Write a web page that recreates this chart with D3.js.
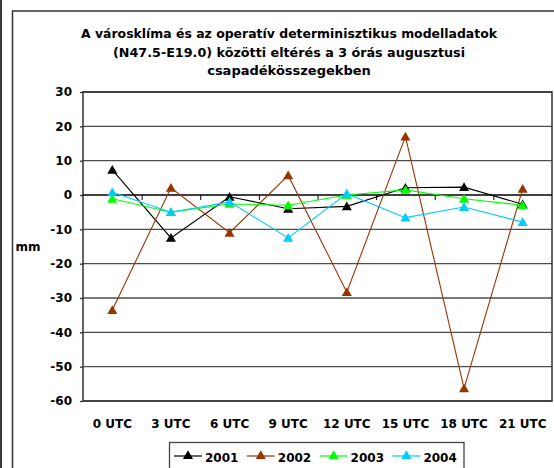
<!DOCTYPE html>
<html>
<head>
<meta charset="utf-8">
<script src="https://cdn.jsdelivr.net/npm/d3@7"></script>
<style>
  html, body { margin: 0; padding: 0; background: #fff; }
  svg { display: block; }
  text { font-family: "DejaVu Sans", Verdana, sans-serif; font-weight: bold; fill: #000; }
</style>
</head>
<body>
<svg id="chart" width="554" height="468"></svg>
<script>
// Eltérés (mm) a 3 órás augusztusi csapadékösszegekben
const categories = ["0 UTC", "3 UTC", "6 UTC", "9 UTC", "12 UTC", "15 UTC", "18 UTC", "21 UTC"];
const years = ["2001", "2002", "2003", "2004"];
const values2001 = [7.3, -12.5, -0.5, -4.0, -3.3, 2.1, 2.3, -2.7];
const values2002 = [-33.5, 2.1, -11.0, 5.7, -28.3, 17.0, -56.3, 1.8];
const values2003 = [-1.1, -5.0, -2.6, -3.0, 0.0, 1.5, -1.1, -3.0];
const values2004 = [0.8, -5.0, -2.0, -12.5, 0.4, -6.6, -3.5, -7.9];
const yTicks = [30, 20, 10, 0, -10, -20, -30, -40, -50, -60];
const titleLines = [
  "A városklíma és az operatív determinisztikus modelladatok",
  "(N47.5-E19.0) közötti eltérés a 3 órás augusztusi",
  "csapadékösszegekben"
];
const yLabel = "mm";

const seriesData = [values2001, values2002, values2003, values2004];
const colors = ["#000000", "#993300", "#00ff00", "#00ccff"];

const svg = d3.select("#chart");

// outer frame pieces
svg.append("rect").attr("x", 0).attr("y", 0).attr("width", 2).attr("height", 468).attr("fill", "#3a3a3a");
svg.append("rect").attr("x", 12.5).attr("y", 11).attr("width", 600).attr("height", 600)
  .attr("fill", "#fff").attr("stroke", "#333").attr("stroke-width", 1.5);

const plot = { left: 83, right: 552, top: 92, bottom: 401 };

const x = d3.scaleBand().domain(categories).range([plot.left, plot.right]).padding(0);
const xEdge = d3.scaleLinear().domain([0, categories.length]).range([plot.left, plot.right]);
const y = d3.scaleLinear().domain([-60, 30]).range([plot.bottom, plot.top]);

// title
const title = svg.append("g");
const titleTargets = [416, 352, 164];
titleLines.forEach((t, i) => {
  const el = title.append("text")
    .attr("x", 289).attr("y", 38 + i * 18.5)
    .attr("text-anchor", "middle")
    .attr("font-size", 13)
    .text(t);
  const len = el.node().getComputedTextLength();
  if (len > titleTargets[i]) {
    el.attr("textLength", titleTargets[i]).attr("lengthAdjust", "spacingAndGlyphs");
  }
});

// horizontal gridlines
svg.append("g").selectAll("line").data(yTicks.filter(v => v !== 0)).join("line")
  .attr("x1", plot.left).attr("x2", plot.right)
  .attr("y1", d => y(d)).attr("y2", d => y(d))
  .attr("stroke", "#4d4d4d").attr("stroke-width", 1.3);

// plot area border
svg.append("rect")
  .attr("x", plot.left).attr("y", plot.top)
  .attr("width", plot.right - plot.left).attr("height", plot.bottom - plot.top)
  .attr("fill", "none").attr("stroke", "#333").attr("stroke-width", 1.5);

// y axis
const yAxis = svg.append("g").attr("transform", `translate(${plot.left},0)`)
  .call(d3.axisLeft(y).tickValues(yTicks).tickSize(3).tickPadding(8).tickFormat(d3.format("d")));
yAxis.select(".domain").remove();
yAxis.selectAll(".tick line").attr("stroke", "#333").attr("stroke-width", 1.3);
yAxis.selectAll(".tick text")
  .attr("font-family", "DejaVu Sans, Verdana, sans-serif").attr("font-size", 12).attr("font-weight", "bold")
  .text(d => d < 0 ? "-" + Math.abs(d) : d);

// category axis lying on the zero line
const xAxis = svg.append("g").attr("transform", `translate(0,${y(0)})`)
  .call(d3.axisBottom(xEdge).tickValues(d3.range(1, categories.length)).tickSize(5).tickFormat(""));
xAxis.select(".domain").remove();
xAxis.selectAll(".tick line").attr("stroke", "#000").attr("stroke-width", 1);
svg.append("line")
  .attr("x1", plot.left).attr("x2", plot.right)
  .attr("y1", y(0)).attr("y2", y(0))
  .attr("stroke", "#000").attr("stroke-width", 1.3);

// category labels below the plot
const xLab = svg.append("g").attr("transform", `translate(0,${plot.bottom})`)
  .call(d3.axisBottom(x).tickSize(0).tickPadding(18));
xLab.select(".domain").remove();
xLab.selectAll(".tick text")
  .attr("font-family", "DejaVu Sans, Verdana, sans-serif").attr("font-size", 12).attr("font-weight", "bold");

// y axis title
svg.append("text").attr("x", 28).attr("y", 251).attr("text-anchor", "middle")
  .attr("font-size", 12).text(yLabel);

// series
const tri = d3.symbol().type(d3.symbolTriangle).size(44);
const line = d3.line().x((d, i) => x(categories[i]) + x.bandwidth() / 2).y(d => y(d));

seriesData.forEach((vals, s) => {
  const g = svg.append("g");
  g.append("path").attr("d", line(vals))
    .attr("fill", "none").attr("stroke", colors[s]).attr("stroke-width", 1.1);
  g.selectAll("path.m").data(vals).join("path").attr("class", "m")
    .attr("d", tri)
    .attr("transform", (d, i) => `translate(${x(categories[i]) + x.bandwidth() / 2},${y(d) + 1})`)
    .attr("fill", colors[s]);
});

// legend
const legend = svg.append("g");
legend.append("rect").attr("x", 169.5).attr("y", 442.5).attr("width", 294.5).attr("height", 40)
  .attr("fill", "#fff").attr("stroke", "#444").attr("stroke-width", 1.3);
years.forEach((yr, i) => {
  const lx = 174 + i * 72.8;
  legend.append("line").attr("x1", lx).attr("x2", lx + 28).attr("y1", 456).attr("y2", 456)
    .attr("stroke", colors[i]).attr("stroke-width", 1.2);
  legend.append("path").attr("d", tri).attr("transform", `translate(${lx + 14},${456})`)
    .attr("fill", colors[i]);
  legend.append("text").attr("x", lx + 31).attr("y", 461.5).attr("font-size", 12).text(yr);
});
</script>
</body>
</html>
